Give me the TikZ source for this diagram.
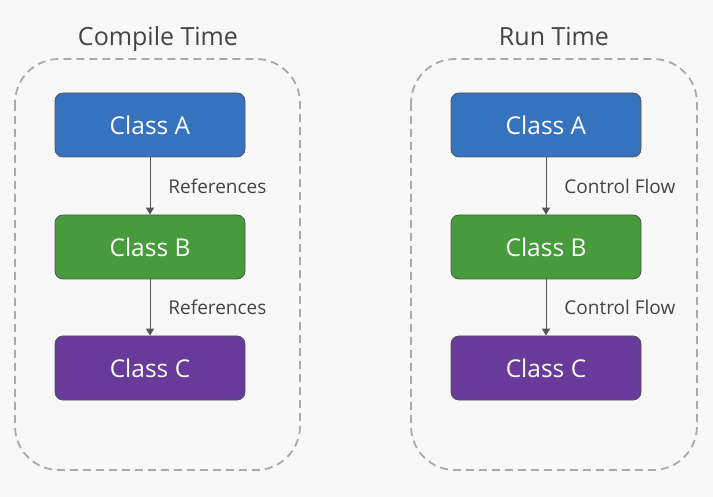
\documentclass[tikz,border=0pt]{standalone}
\usepackage{fontspec}
\setmainfont{Open Sans}
\usetikzlibrary{arrows.meta}
\definecolor{bg}{HTML}{F8F8F8}
\definecolor{cblue}{HTML}{3673BE}
\definecolor{cgreen}{HTML}{489B3C}
\definecolor{cpurple}{HTML}{683A99}
\definecolor{edge}{HTML}{555555}
\definecolor{dash}{HTML}{AAAAAA}
\definecolor{txt}{HTML}{444444}
\tikzset{
  group/.style={draw=dash, line width=1.8pt, dash pattern=on 8pt off 5pt, rounded corners=44pt},
  cls/.style={draw=edge, line width=0.8pt, rounded corners=8pt, minimum width=190pt, minimum height=64pt, text=white, font=\fontsize{24.5}{28}\selectfont, inner sep=0pt},
  title/.style={text=txt, font=\fontsize{25}{29}\selectfont, inner sep=0pt, anchor=base},
  lbl/.style={text=txt, font=\fontsize{19}{22}\selectfont, inner sep=0pt, anchor=west},
  conn/.style={draw=edge, line width=0.9pt, -{Triangle[length=7pt,width=8pt]}},
}
\begin{document}
\begin{tikzpicture}[x=1pt,y=-1pt]
\fill[bg] (0,0) rectangle (713,497);
\useasboundingbox (0,0) rectangle (713,497);
% left group
\draw[group] (15,59) rectangle (300,470);
\node[title] (t1) at (158,46) {Compile Time};
\node[cls, fill=cblue] (a1) at (150,125) {Class A};
\node[cls, fill=cgreen] (b1) at (150,247) {Class B};
\node[cls, fill=cpurple] (c1) at (150,368) {Class C};
\draw[conn] (a1) -- (b1) node[lbl, midway, xshift=18pt] {References};
\draw[conn] (b1) -- (c1) node[lbl, midway, xshift=18pt] {References};
% right group
\draw[group] (411,59) rectangle (697,470);
\node[title] (t2) at (554,46) {Run Time};
\node[cls, fill=cblue] (a2) at (546,125) {Class A};
\node[cls, fill=cgreen] (b2) at (546,247) {Class B};
\node[cls, fill=cpurple] (c2) at (546,368) {Class C};
\draw[conn] (a2) -- (b2) node[lbl, midway, xshift=18pt] {Control Flow};
\draw[conn] (b2) -- (c2) node[lbl, midway, xshift=18pt] {Control Flow};
\end{tikzpicture}
\end{document}
